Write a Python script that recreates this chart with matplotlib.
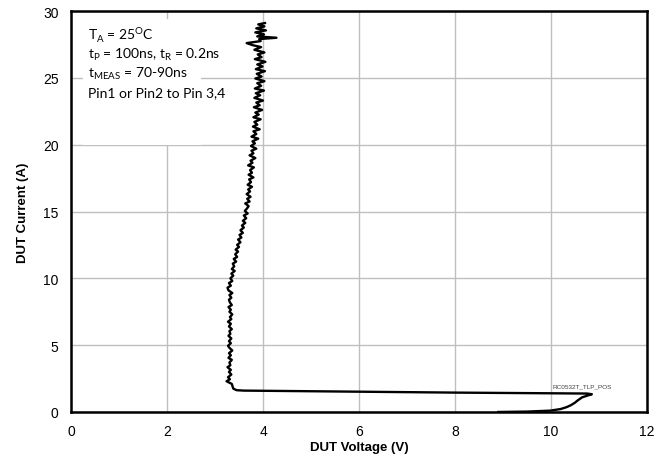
import numpy as np
import matplotlib.pyplot as plt
from matplotlib.patches import Rectangle

# TLP curve: (voltage, current) in drawing order
# lower part: turn-on ramp, then the snapback line
v_low = [8.9, 9.5, 9.98, 10.2, 10.33, 10.42, 10.5, 10.55, 10.65, 10.8, 10.85,
         10.75, 8.0, 5.0, 3.6, 3.45, 3.38]
i_low = [0.0, 0.03, 0.1, 0.22, 0.37, 0.52, 0.7, 0.85, 1.1, 1.27, 1.33,
         1.38, 1.45, 1.55, 1.6, 1.63, 1.75]

# clamped part (noisy measurement)
v_up = [3.35, 3.24, 3.31, 3.27, 3.34, 3.29, 3.33, 3.26, 3.32, 3.30,
        3.35, 3.28, 3.33, 3.29, 3.36, 3.30, 3.27, 3.33, 3.29, 3.34,
        3.28, 3.32, 3.30, 3.35, 3.29, 3.33, 3.27, 3.34, 3.31, 3.36,
        3.30, 3.33, 3.28, 3.35, 3.31, 3.29, 3.34, 3.30, 3.36, 3.28,
        3.26, 3.33, 3.29, 3.36, 3.32, 3.38, 3.34, 3.41, 3.35, 3.40,
        3.37, 3.44, 3.39, 3.46, 3.42, 3.48, 3.43, 3.50, 3.46, 3.53,
        3.48, 3.55, 3.51, 3.58, 3.53, 3.60, 3.56, 3.63, 3.58, 3.65,
        3.60, 3.68, 3.62, 3.66, 3.70, 3.63, 3.72, 3.67, 3.74, 3.66,
        3.73, 3.69, 3.77, 3.68, 3.75, 3.71, 3.80, 3.70, 3.77, 3.73,
        3.81, 3.69, 3.78, 3.74, 3.84, 3.72, 3.80, 3.76, 3.86, 3.75,
        3.83, 3.78, 3.90, 3.76, 3.86, 3.80, 3.93, 3.79, 3.88, 3.82,
        3.95, 3.80, 3.91, 3.84, 3.98, 3.81, 3.93, 3.86, 4.00, 3.82,
        3.94, 3.85, 4.02, 3.83, 3.96, 3.88, 4.03, 3.84, 3.97, 3.87,
        4.04, 3.85, 3.99, 3.88, 4.05, 3.83, 3.97, 3.89, 4.03, 3.82,
        3.96, 3.78, 3.66, 3.95, 3.92, 4.28, 3.88, 4.02, 3.84, 4.06,
        3.86, 4.03, 3.90, 4.04]
i_up = [2.1, 2.3, 2.45, 2.6, 2.8, 3.0, 3.15, 3.35, 3.5, 3.7,
        3.9, 4.05, 4.25, 4.4, 4.6, 4.8, 4.95, 5.15, 5.3, 5.5,
        5.7, 5.85, 6.05, 6.2, 6.4, 6.6, 6.75, 6.95, 7.1, 7.3,
        7.5, 7.65, 7.85, 8.0, 8.2, 8.4, 8.55, 8.75, 8.9, 9.1,
        9.3, 9.45, 9.65, 9.8, 10.0, 10.2, 10.35, 10.55, 10.7, 10.9,
        11.1, 11.25, 11.45, 11.6, 11.8, 12.0, 12.15, 12.35, 12.5, 12.7,
        12.9, 13.05, 13.25, 13.4, 13.6, 13.8, 13.95, 14.15, 14.3, 14.5,
        14.7, 14.85, 15.05, 15.2, 15.4, 15.6, 15.75, 15.95, 16.1, 16.3,
        16.5, 16.65, 16.85, 17.0, 17.2, 17.4, 17.55, 17.75, 17.9, 18.1,
        18.3, 18.45, 18.65, 18.8, 19.0, 19.2, 19.35, 19.55, 19.7, 19.9,
        20.1, 20.25, 20.45, 20.6, 20.8, 21.0, 21.15, 21.35, 21.5, 21.7,
        21.9, 22.05, 22.25, 22.4, 22.6, 22.8, 22.95, 23.15, 23.3, 23.5,
        23.7, 23.85, 24.05, 24.2, 24.4, 24.6, 24.75, 24.95, 25.1, 25.3,
        25.5, 25.65, 25.85, 26.0, 26.2, 26.4, 26.55, 26.75, 26.9, 27.1,
        27.3, 27.45, 27.6, 27.75, 27.9, 28.0, 28.1, 28.25, 28.4, 28.55,
        28.7, 28.85, 29.0, 29.1]

voltage = v_low + v_up
current = i_low + i_up

x_ticks = [0, 2, 4, 6, 8, 10, 12]
y_ticks = [0, 5, 10, 15, 20, 25, 30]

plt.rcParams['font.family'] = ['Liberation Sans', 'DejaVu Sans']

fig = plt.figure(figsize=(6.72, 4.77), dpi=100)
ax = fig.add_axes([0.1057, 0.1342, 0.8571, 0.8406])

ax.plot(voltage, current, color='black', lw=1.7, zorder=3)

ax.set_xlim(0, 12)
ax.set_ylim(0, 30)
ax.set_xticks(x_ticks)
ax.set_yticks(y_ticks)
ax.grid(True, color='#bfbfbf', lw=1.0)
ax.tick_params(length=0, labelsize=10, pad=9)
for s in ax.spines.values():
    s.set_linewidth(1.8)
    s.set_color('black')

ax.set_xlabel('DUT Voltage (V)', fontsize=9.5, fontweight='bold', labelpad=2)
ax.set_ylabel('DUT Current (A)', fontsize=9.5, fontweight='bold', labelpad=10)

# white box behind the test conditions
ax.add_patch(Rectangle((0.25, 19.95), 2.45, 9.45, facecolor='white',
                       edgecolor='none', zorder=2))

lines = [r'T$_\mathregular{A}$ = 25$^\mathregular{O}$C',
         r't$_\mathregular{P}$ = 100ns, t$_\mathregular{R}$ = 0.2ns',
         r't$_\mathregular{MEAS}$ = 70-90ns',
         'Pin1 or Pin2 to Pin 3,4']
for k, txt in enumerate(lines):
    ax.text(0.35, 27.95 - k * 1.43, txt, fontsize=10, family=['Lato', 'DejaVu Sans'],
            zorder=4, va='baseline')

ax.text(10.04, 1.85, 'RC0532T_TLP_POS', fontsize=4.6, color='#404040', zorder=4)

fig.savefig('out.png', dpi=100)
